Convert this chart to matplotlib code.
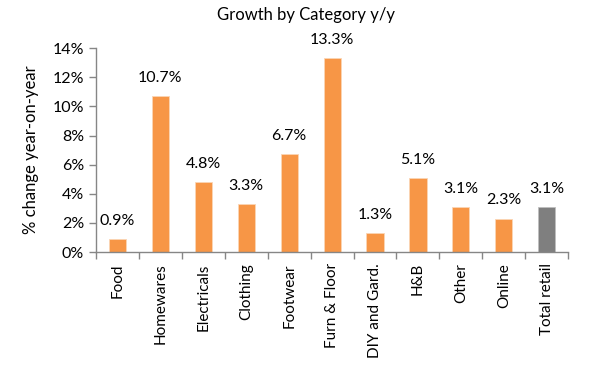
import matplotlib
matplotlib.use("Agg")
from matplotlib import pyplot as plt
from matplotlib.ticker import FuncFormatter, FixedLocator

categories = ['Food', 'Homewares', 'Electricals', 'Clothing', 'Footwear', 'Furn & Floor',
              'DIY and Gard.', 'H&B', 'Other', 'Online', 'Total retail']
growth = [0.9, 10.7, 4.8, 3.3, 6.7, 13.3, 1.3, 5.1, 3.1, 2.3, 3.1]
labels = ['0.9%', '10.7%', '4.8%', '3.3%', '6.7%', '13.3%', '1.3%', '5.1%', '3.1%', '2.3%', '3.1%']

plt.rcParams['font.family'] = ['Lato', 'DejaVu Sans']

fig = plt.figure(figsize=(6, 3.82), dpi=100)
ax = fig.add_axes([0.16, 0.34, 0.787, 0.534])

colors = ['#F79646'] * (len(categories) - 1) + ['#7F7F7F']
x = range(len(categories))
bars = ax.bar(x, growth, width=0.4, color=colors, edgecolor='#FBD5B5', linewidth=0.6)
bars[-1].set_edgecolor('#BFBFBF')

for i, (v, lab) in enumerate(zip(growth, labels)):
    ax.annotate(lab, (i, v), xytext=(0, 8), textcoords='offset points',
                ha='center', va='bottom', fontsize=11.5, color='black')

ax.set_xlim(-0.5, len(categories) - 0.5)
ax.set_ylim(0, 14)
ax.set_yticks(range(0, 15, 2))
ax.yaxis.set_major_formatter(FuncFormatter(lambda v, p: f'{v:.0f}%'))

ax.set_xticks(list(x))
ax.set_xticklabels(categories, rotation=90, fontsize=11)
ax.tick_params(axis='x', which='major', length=0, pad=8)
ax.xaxis.set_minor_locator(FixedLocator([i - 0.5 for i in range(len(categories) + 1)]))
ax.tick_params(axis='x', which='minor', length=5, color='#868686', width=1)
ax.tick_params(axis='y', length=5, color='#868686', width=1, labelsize=11.5)

for s in ['top', 'right']:
    ax.spines[s].set_visible(False)
for s in ['left', 'bottom']:
    ax.spines[s].set_color('#868686')
    ax.spines[s].set_linewidth(1)

fig.text(0.51, 0.96, 'Growth by Category y/y', fontsize=12, ha='center', va='center')
ax.set_ylabel('% change year-on-year', fontsize=12, labelpad=10)

fig.savefig('out.png', dpi=100)
